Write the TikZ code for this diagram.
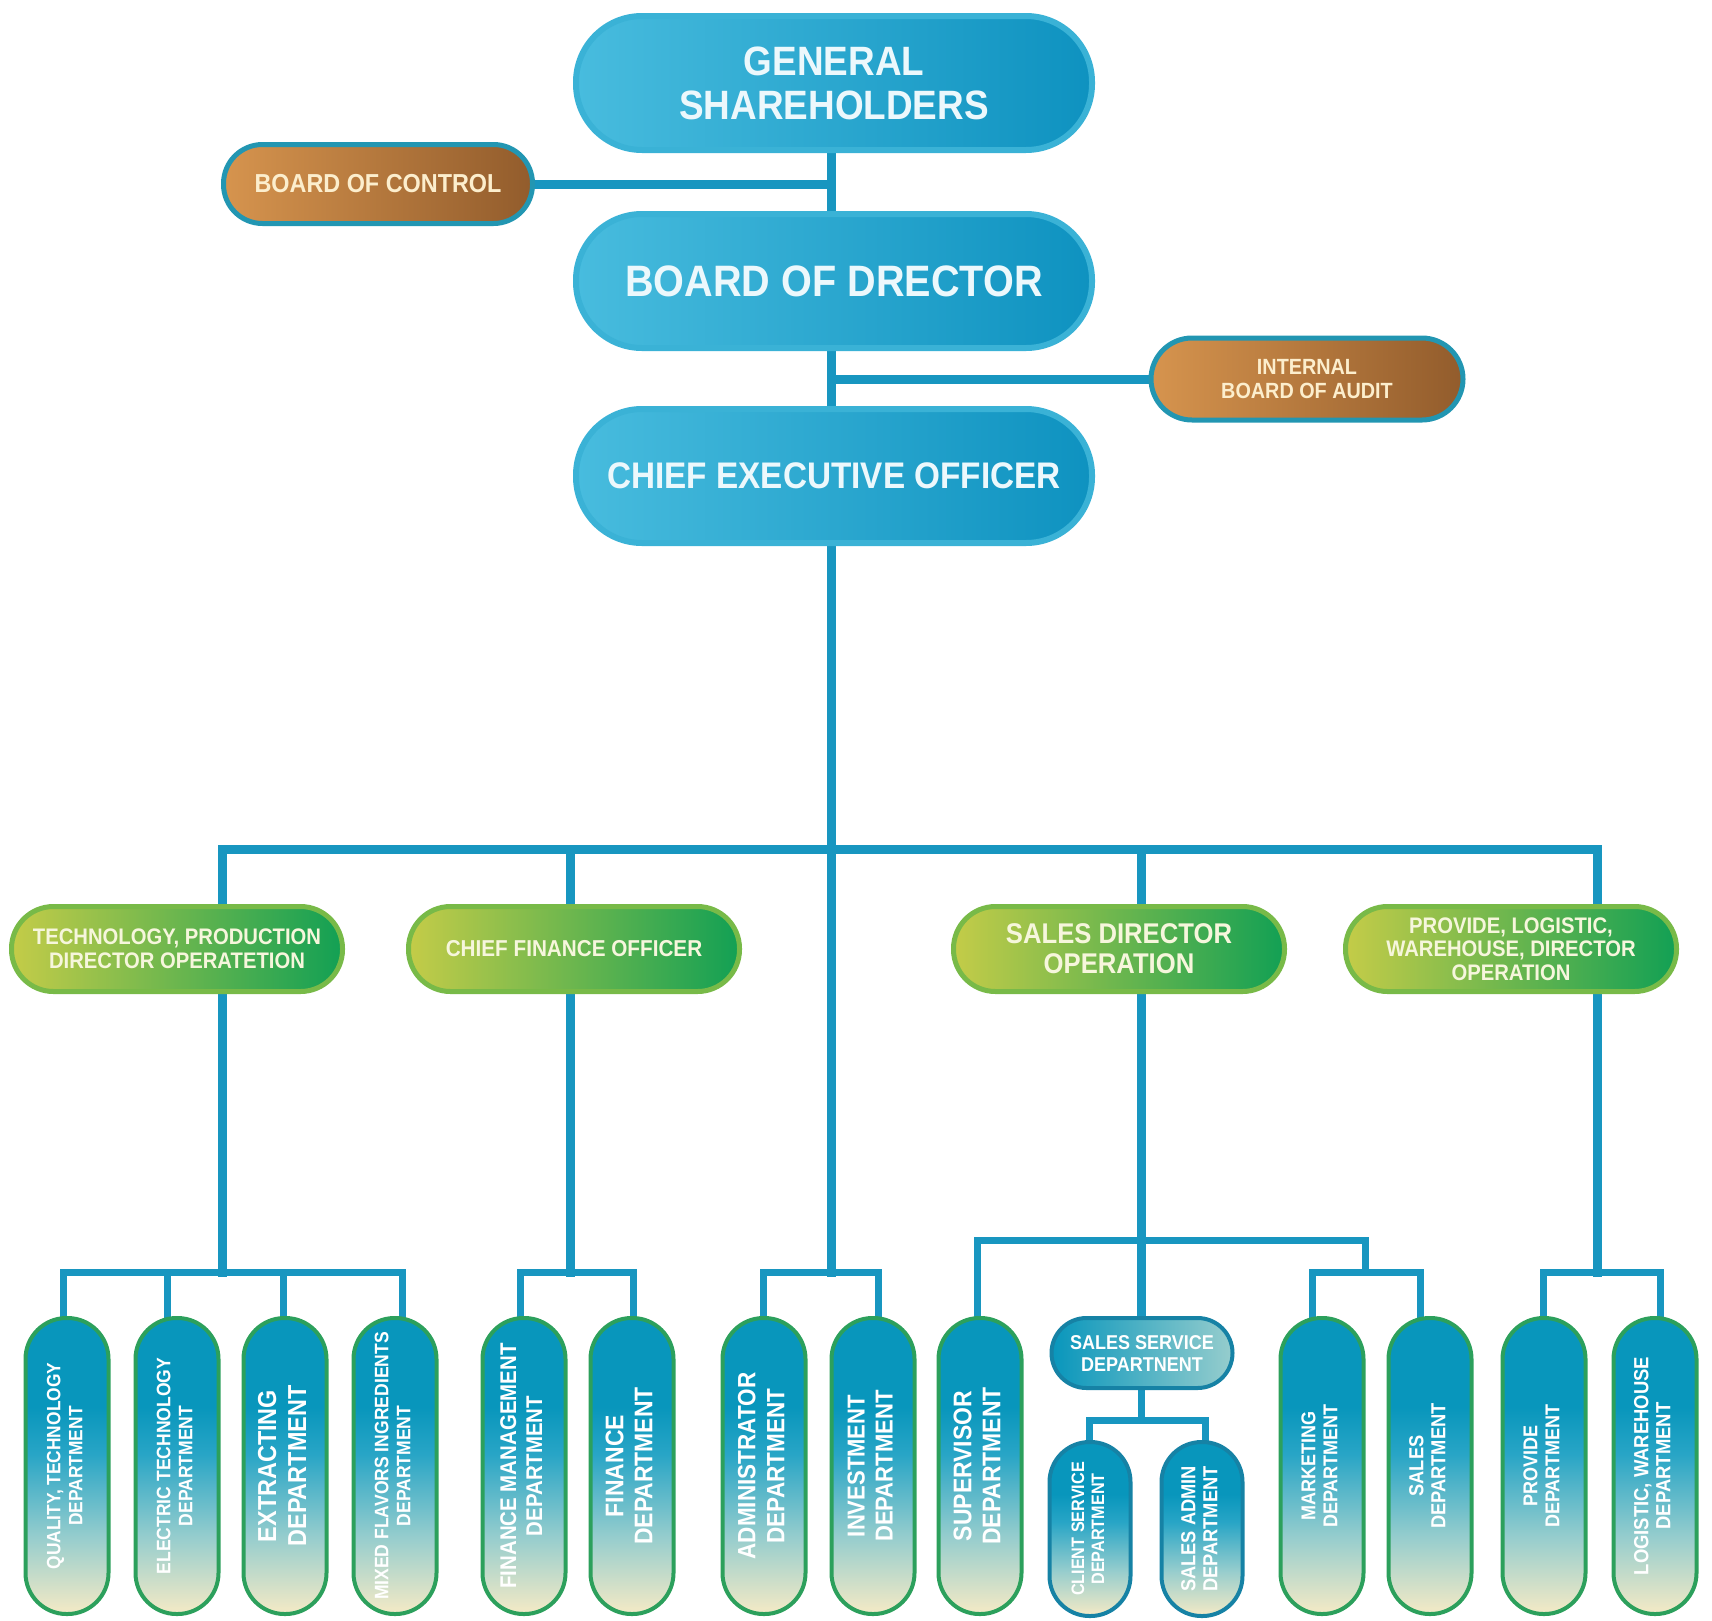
\documentclass[tikz,border=0pt]{standalone}
\usepackage{fontspec}
\setmainfont{Liberation Sans}[FakeStretch=0.9]
\usepackage{graphicx}
\usetikzlibrary{calc}
\definecolor{linec}{RGB}{24,150,192}
\definecolor{blueL}{RGB}{72,188,222}
\definecolor{blueR}{RGB}{14,146,192}
\definecolor{bluering}{RGB}{58,178,214}
\definecolor{blutxt}{RGB}{236,248,252}
\definecolor{brownL}{RGB}{214,148,78}
\definecolor{brownR}{RGB}{146,92,44}
\definecolor{brownring}{RGB}{34,150,178}
\definecolor{browntxt}{RGB}{252,238,205}
\definecolor{greenL}{RGB}{196,204,72}
\definecolor{greenR}{RGB}{18,160,84}
\definecolor{greenring}{RGB}{120,186,72}
\definecolor{greentxt}{RGB}{246,246,220}
\definecolor{pilltop}{RGB}{8,150,188}
\definecolor{pillmid}{RGB}{40,165,198}
\definecolor{pilllight}{RGB}{150,205,205}
\definecolor{pillbot}{RGB}{238,232,198}
\definecolor{pillring}{RGB}{44,160,92}
\definecolor{tealring}{RGB}{22,130,165}
\pgfdeclareverticalshading{pillsh}{100bp}{color(0bp)=(pillbot); color(26bp)=(pillbot); color(38bp)=(pilllight); color(52bp)=(pillmid); color(60bp)=(pilltop); color(100bp)=(pilltop)}
\pgfdeclarelayer{bg}
\pgfsetlayers{bg,main}
\newcommand\fsz[2]{\fontsize{#1}{#2}\selectfont}
\newcommand\vtext[4]{\rotatebox{90}{\fsz{#1}{#2}\begin{tabular}{@{}c@{}}#3\\#4\end{tabular}}}
\tikzset{
  fs/.style 2 args={font=\bfseries\fontsize{#1}{#2}\selectfont},
  conn/.style={draw=linec, line width=9pt, line cap=rect},
  conns/.style={draw=linec, line width=7pt, line cap=rect},
  bluebox/.style={rectangle, rounded corners=66pt, minimum width=516pt, minimum height=134pt, inner sep=0pt, draw=bluering, line width=6pt, left color=blueL, right color=blueR, text=blutxt, align=center},
  brownbox/.style={rectangle, inner sep=0pt, draw=brownring, line width=5pt, left color=brownL, right color=brownR, text=browntxt, align=center},
  greenbox/.style={rectangle, rounded corners=42pt, minimum width=331pt, minimum height=85pt, inner sep=0pt, draw=greenring, line width=5pt, left color=greenL, right color=greenR, text=greentxt, align=center},
  pill/.style={rectangle, rounded corners=41pt, minimum width=83pt, minimum height=296pt, inner sep=0pt, draw=pillring, line width=4pt, shade, shading=pillsh, text=white, font=\bfseries},
  smallpill/.style={pill, rounded corners=40pt, minimum width=81pt, minimum height=174pt, draw=tealring},
  sspill/.style={rectangle, rounded corners=35pt, minimum width=181pt, minimum height=70pt, inner sep=0pt, draw=tealring, line width=4pt, left color=pilltop, right color=pilllight, text=white, align=center},
}
\begin{document}
\begin{tikzpicture}[x=1pt, y=-1pt]
\useasboundingbox (0,0) rectangle (1712,1620);
% top level
\node[bluebox, fs={41}{44}] (gs) at (834,83) {GENERAL\\SHAREHOLDERS};
\node[bluebox, fs={44}{50}] (bod) at (834,281) {BOARD OF DRECTOR};
\node[bluebox, fs={37}{42}] (ceo) at (834,476) {CHIEF EXECUTIVE OFFICER};
\node[brownbox, fs={26}{28}, rounded corners=39pt, minimum width=309pt, minimum height=79pt] (boc) at (378,184) {BOARD OF CONTROL};
\node[brownbox, fs={22}{24}, rounded corners=41pt, minimum width=312pt, minimum height=82pt] (iba) at (1307,379) {INTERNAL\\BOARD OF AUDIT};
% second level
\node[greenbox, fs={22.5}{24}] (tech) at (177,949) {TECHNOLOGY, PRODUCTION\\DIRECTOR OPERATETION};
\node[greenbox, fs={23}{25}] (cfo) at (574,949) {CHIEF FINANCE OFFICER};
\node[greenbox, fs={28.5}{30}] (sdo) at (1119,949) {SALES DIRECTOR\\OPERATION};
\node[greenbox, fs={22.5}{23.5}] (plw) at (1511,949) {PROVIDE, LOGISTIC,\\WAREHOUSE, DIRECTOR\\OPERATION};
% departments
\node[pill] (q) at (67,1466) {\vtext{19.3}{22}{QUALITY, TECHNOLOGY}{DEPARTMENT}};
\node[pill] (e) at (177,1466) {\vtext{19.5}{22}{ELECTRIC TECHNOLOGY}{DEPARTMENT}};
\node[pill] (xd) at (285,1466) {\vtext{26}{30}{EXTRACTING}{DEPARTMENT}};
\node[pill] (mx) at (395,1466) {\vtext{19.5}{22}{MIXED FLAVORS INGREDIENTS}{DEPARTMENT}};
\node[pill] (fm) at (524,1466) {\vtext{22.7}{26}{FINANCE MANAGEMENT}{DEPARTMENT}};
\node[pill] (fi) at (632,1466) {\vtext{25.5}{29}{FINANCE}{DEPARTMENT}};
\node[pill] (ad) at (764,1466) {\vtext{25}{29}{ADMINISTRATOR}{DEPARTMENT}};
\node[pill] (iv) at (873,1466) {\vtext{24.5}{28}{INVESTMENT}{DEPARTMENT}};
\node[pill] (su) at (980,1466) {\vtext{25.5}{29}{SUPERVISOR}{DEPARTMENT}};
\node[sspill, fs={20}{22}] (ss) at (1142,1353) {SALES SERVICE\\DEPARTNENT};
\node[smallpill] (cs) at (1090,1529) {\vtext{18}{20}{CLIENT SERVICE}{DEPARTMENT}};
\node[smallpill] (sa) at (1202,1529) {\vtext{20.3}{22}{SALES ADMIN}{DEPARTMENT}};
\node[pill] (mk) at (1322,1466) {\vtext{20}{22}{MARKETING}{DEPARTMENT}};
\node[pill] (sl) at (1430,1466) {\vtext{20.3}{22}{SALES}{DEPARTMENT}};
\node[pill] (pr) at (1544,1466) {\vtext{20}{22}{PROVIDE}{DEPARTMENT}};
\node[pill] (lg) at (1655,1466) {\vtext{20.5}{22}{LOGISTIC, WAREHOUSE}{DEPARTMENT}};
% connectors
\begin{pgfonlayer}{bg}
\coordinate (T) at (831,0);
\coordinate (yb) at (0,1272);
\coordinate (yc) at (0,1420);
\coordinate (j1) at (222,849);
\coordinate (j2) at (570,849);
\coordinate (j3) at (1141,849);
\coordinate (j4) at (1597,849);
\coordinate (k) at (1365,1240);
\coordinate (a-q) at ($(q.north)+(-4,0)$);
\coordinate (a-e) at ($(e.north)+(-10,0)$);
\coordinate (a-xd) at ($(xd.north)+(-2,0)$);
\coordinate (a-mx) at ($(mx.north)+(7,0)$);
\coordinate (a-fm) at ($(fm.north)+(-4,0)$);
\coordinate (a-fi) at ($(fi.north)+(1,0)$);
\coordinate (a-ad) at ($(ad.north)+(-1,0)$);
\coordinate (a-iv) at ($(iv.north)+(5,0)$);
\coordinate (a-su) at ($(su.north)+(-3,0)$);
\coordinate (a-mk) at ($(mk.north)+(-10,0)$);
\coordinate (a-sl) at ($(sl.north)+(-10,0)$);
\coordinate (a-pr) at ($(pr.north)+(-1,0)$);
\coordinate (a-lg) at ($(lg.north)+(5,0)$);
\coordinate (a-cs) at ($(cs.north)+(-1,0)$);
\coordinate (a-sa) at ($(sa.north)+(3,0)$);
\draw[conn] (gs.south -| T) -- (bod.north -| T);
\draw[conn] (bod.south -| T) -- (ceo.north -| T);
\draw[conn] (boc.east) -- (boc.east -| T);
\draw[conn] (iba.west) -- (iba.west -| T);
\draw[conn] (ceo.south -| T) -- (T |- yb);
\draw[conn] (j1 |- yb) -- (j1) -- (j4) -- (j4 |- yb);
\draw[conn] (j2) -- (j2 |- yb);
\draw[conn] (j3) -- (ss.north -| j3);
% lower buses
\draw[conns] (a-q) |- (a-mx |- yb) -- (a-mx);
\draw[conns] (a-e) -- (a-e |- yb);
\draw[conns] (a-xd) -- (a-xd |- yb);
\draw[conns] (a-fm) |- (a-fi |- yb) -- (a-fi);
\draw[conns] (a-ad) |- (a-iv |- yb) -- (a-iv);
\draw[conns] (a-su) |- (k) -- (k |- yb);
\draw[conns] (a-mk) |- (a-sl |- yb) -- (a-sl);
\draw[conns] (ss.south -| j3) -- (j3 |- yc);
\draw[conns] (a-cs) |- (a-sa |- yc) -- (a-sa);
\draw[conns] (a-pr) |- (a-lg |- yb) -- (a-lg);
\end{pgfonlayer}
\end{tikzpicture}
\end{document}
